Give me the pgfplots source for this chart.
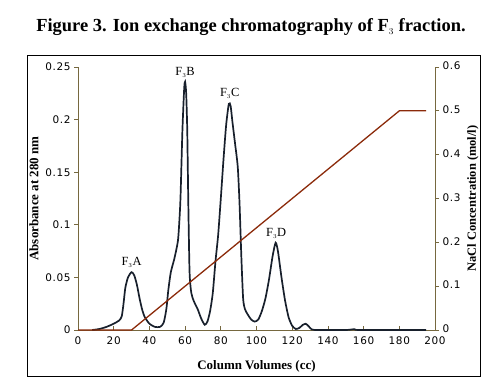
\documentclass[border=0pt]{standalone}
\usepackage{pgfplots}
\pgfplotsset{compat=1.18}
\usepackage{fontspec}
\setmainfont{Liberation Serif}
\newfontfamily\tickfont[LetterSpace=6]{DejaVu Sans}
\definecolor{axcol}{HTML}{76683F}
\definecolor{saltcol}{HTML}{8B2A0A}
\definecolor{curvecol}{HTML}{18202C}
\begin{document}
\begin{tikzpicture}[x=1bp,y=1bp]
\useasboundingbox (0,0) rectangle (501,-386);
\draw[black, line width=1bp] (27,-55) rectangle (480,-376);
\node[font=\fontsize{18.5}{21}\selectfont\bfseries] at (251,-27) {Figure 3. Ion exchange chromatography of F$_{\scriptscriptstyle 3}$ fraction.};
\begin{axis}[
  at={(78bp,-330bp)}, anchor=south west,
  scale only axis, width=357bp, height=263bp,
  xmin=0, xmax=200, ymin=0, ymax=0.25,
  axis lines*=left,
  axis line style={axcol, line width=0.9bp},
  every tick/.style={axcol, line width=0.8bp},
  xtick={0,20,...,200},
  ytick={0,0.05,0.1,0.15,0.2,0.25},
  yticklabels={0,0.05,0.1,0.15,0.2,0.25},
  xtick align=inside, ytick align=outside,
  major tick length=4bp,
  tick label style={font=\fontsize{10.5}{12}\tickfont},
  xticklabel style={yshift=-3bp},
  /pgf/number format/assume math mode=true,
  scaled y ticks=false,
  xlabel={Column Volumes (cc)},
  ylabel={Absorbance at 280 nm},
  label style={font=\fontsize{13}{15}\selectfont\bfseries},
  xlabel style={yshift=-9bp},
  ylabel style={yshift=0bp},
  clip=false,
]
\addplot[curvecol, line width=1.7bp, smooth, tension=0.4] coordinates {
(8,0) (12,0.001) (16,0.003) (20,0.006) (23,0.009) (24.5,0.013) (25.5,0.025) (26.5,0.040) (28,0.050) (30,0.055) (31.5,0.052) (33,0.043) (34.5,0.030) (36,0.019) (37.5,0.012) (40,0.006) (43,0.003) (46,0.003) (48,0.007) (49.5,0.020) (50.6,0.038) (52,0.055) (54,0.068) (56,0.085) (57,0.11) (57.5,0.13) (58.5,0.19) (59.5,0.230) (60,0.236) (60.6,0.225) (61.2,0.19) (61.8,0.12) (62.5,0.055) (63.5,0.035) (65,0.027) (67,0.020) (69,0.011) (71,0.005) (72.5,0.008) (74,0.018) (75.5,0.035) (77,0.065) (78.5,0.090) (80,0.125) (81.5,0.162) (83,0.195) (84.5,0.215) (85.5,0.213) (86.5,0.198) (88,0.177) (89.5,0.155) (90.5,0.12) (91.5,0.07) (92.5,0.030) (93.5,0.020) (95,0.015) (97,0.010) (99,0.008) (101,0.010) (103,0.018) (105,0.030) (107,0.048) (109,0.070) (110.7,0.083) (112,0.075) (114,0.050) (116,0.028) (118,0.012) (120,0.004) (122,0.001) (124,0.002) (126,0.005) (127.5,0.006) (129,0.004) (131,0.0005) (135,0) (150,0) (155,0.0008) (158,0) (195,0)
};
\node[font=\fontsize{12.5}{14}\selectfont] at (axis cs:30,0.064) {F$_{\scriptscriptstyle 3}$A};
\node[font=\fontsize{12.5}{14}\selectfont] at (axis cs:60,0.245) {F$_{\scriptscriptstyle 3}$B};
\node[font=\fontsize{12.5}{14}\selectfont] at (axis cs:85,0.225) {F$_{\scriptscriptstyle 3}$C};
\node[font=\fontsize{12.5}{14}\selectfont] at (axis cs:111,0.092) {F$_{\scriptscriptstyle 3}$D};
\end{axis}
\begin{axis}[
  at={(78bp,-330bp)}, anchor=south west,
  scale only axis, width=357bp, height=263bp,
  xmin=0, xmax=200, ymin=0, ymax=0.6,
  axis x line=none,
  axis y line*=right,
  axis line style={axcol, line width=0.9bp},
  every tick/.style={axcol, line width=0.8bp},
  ytick={0,0.1,...,0.6},
  yticklabels={0,0.1,0.2,0.3,0.4,0.5,0.6},
  ytick align=outside,
  major tick length=4bp,
  tick label style={font=\fontsize{10.5}{12}\tickfont},
  yticklabel style={yshift=1bp},
  ylabel={NaCl Concentration (mol/l)},
  label style={font=\fontsize{12.5}{14}\selectfont\bfseries},
  ylabel style={yshift=0bp},
  clip=false,
]
\addplot[saltcol, line width=1.3bp] coordinates {(0,0) (30,0) (180,0.5) (195,0.5)};
\end{axis}
\end{tikzpicture}
\end{document}
